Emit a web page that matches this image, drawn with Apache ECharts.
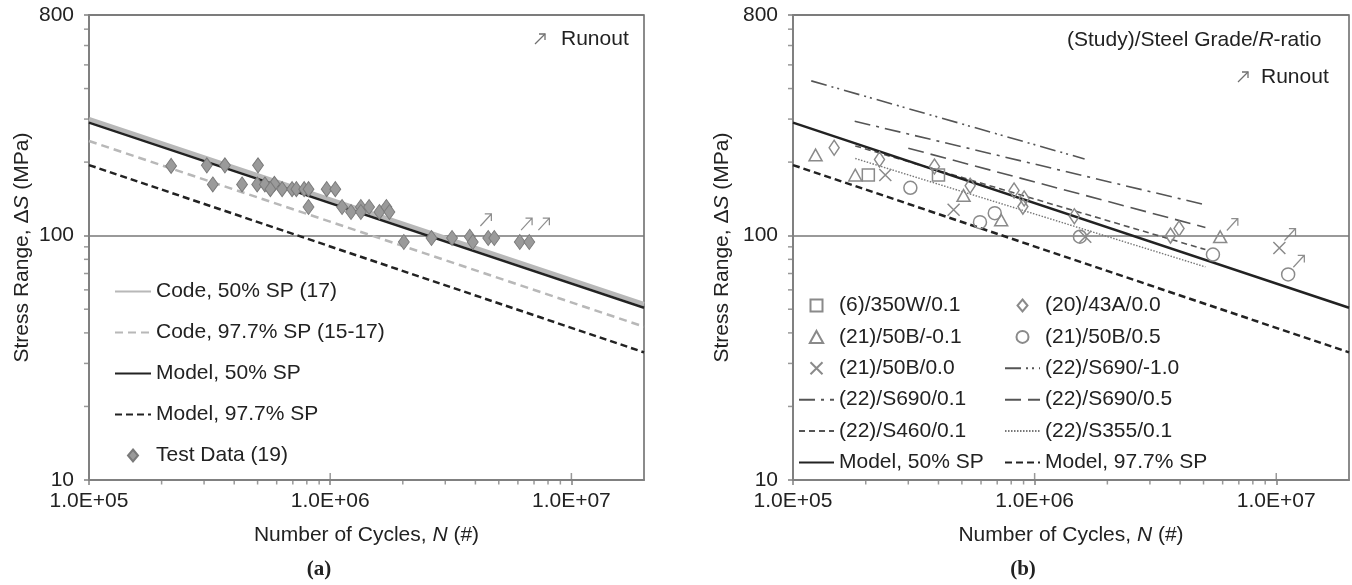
<!DOCTYPE html>
<html><head><meta charset="utf-8">
<script src="https://cdn.jsdelivr.net/npm/echarts@6/dist/echarts.min.js"></script>
<style>html,body{margin:0;padding:0;background:#fff}#c{width:1352px;height:585px}</style>
</head><body><div id="c"></div>
<script>
// ---------- tick labels ----------
const xTickValues = [1e5, 1e6, 1e7];
const xTickLabels = ['1.0E+05', '1.0E+06', '1.0E+07'];
const yTickValues = [10, 100, 800];
const yTickLabels = ['10', '100', '800'];
const xMinorTicks = [2e5,3e5,4e5,5e5,6e5,7e5,8e5,9e5,2e6,3e6,4e6,5e6,6e6,7e6,8e6,9e6];
const yMinorTicks = [20,30,40,50,60,70,80,90,200,300,400,500,600,700];

// ---------- chart (a) ----------
const code50N = [1e5, 2e7],   code50S = [300, 52.4];
const code977N = [1e5, 2e7],  code977S = [244, 42.4];
const model50N = [1e5, 2e7],  model50S = [290, 50.7];
const model977N = [1e5, 2e7], model977S = [194.5, 33.3];
const testN = [2.19e5,3.08e5,3.66e5,3.26e5,5.02e5,4.31e5,4.98e5,5.36e5,5.87e5,5.65e5,6.32e5,6.95e5,7.24e5,7.80e5,8.13e5,8.13e5,9.67e5,1.05e6,1.12e6,1.22e6,1.34e6,1.34e6,1.45e6,1.60e6,1.71e6,1.76e6,2.02e6,2.63e6,3.20e6,3.79e6,3.90e6,4.52e6,4.79e6,6.11e6,6.69e6];
const testS = [193,194,194,162,194,162,162,162,163,155,155,155,155,155,155,131,155,155,131,125,131,125,131,125,131,125,94.2,97.8,97.8,99,94.2,97.8,97.8,94.2,94.2];
const runoutAN = [4.42e6, 6.52e6, 7.69e6];
const runoutAS = [116, 111.5, 111.5];

// ---------- chart (b) ----------
const sq350WN = [2.05e5, 4.0e5];            const sq350WS = [177, 177];
const tri50BN = [1.24e5,1.81e5,5.08e5,7.27e5,5.86e6]; const tri50BS = [214,177,146,116,99];
const dia43AN = [1.48e5,2.28e5,3.85e5,5.41e5,8.22e5,9.05e5,8.94e5,1.46e6,3.65e6,3.96e6];
const dia43AS = [229,205,192,160,153,142,131.5,120,100,107];
const cir50BN = [3.06e5,5.94e5,6.84e5,1.54e6,5.47e6,1.12e7]; const cir50BS = [157,113.6,123.6,99,83.7,69.4];
const x50BN = [2.41e5,4.62e5,1.62e6,1.03e7];  const x50BS = [177,127.6,99,89];
const s690m10N = [1.19e5, 1.61e6], s690m10S = [430, 206];
const s690p01N = [1.80e5, 4.97e6], s690p01S = [294, 134.5];
const s690p05N = [3.0e5, 5.09e6],  s690p05S = [228, 108];
const s460N = [1.81e5, 5.09e6],    s460S = [233, 87.7];
const s355N = [1.81e5, 5.09e6],    s355S = [207, 74.5];
const runoutBN = [6.58e6, 1.14e7, 1.24e7];
const runoutBS = [111, 101, 78.5];

// ---------- helpers ----------
const FONT = 'Liberation Sans';
const TXT = '#222';
const AX = '#808080';
const pairs = (a, b) => a.map((v, i) => [v, b[i]]);
function pickLabel(vals, labels, v) {
  for (let i = 0; i < vals.length; i++) if (Math.abs(Math.log10(v) - Math.log10(vals[i])) < 1e-3) return labels[i];
  return '';
}
function lineS(name, N, S, color, width, type, gi) {
  return { type: 'line', name, xAxisIndex: gi, yAxisIndex: gi, data: pairs(N, S),
    symbol: 'none', showSymbol: false, silent: true, z: 3,
    itemStyle: { color: 'transparent', borderColor: 'transparent', borderWidth: 0, opacity: 0 },
    lineStyle: { color, width, type: type || 'solid', opacity: 1 } };
}
const SQ = 'path://M0,0H10V10H0Z';
const TRI = 'path://M5,0L10,9L0,9Z';
const DIA = 'path://M5,0L10,6L5,12L0,6Z';
const XS = 'path://M0,0L10,10M10,0L0,10';
function markS(name, N, S, symbol, size, gi, fill, stroke, bw) {
  return { type: 'scatter', name, xAxisIndex: gi, yAxisIndex: gi, data: pairs(N, S),
    symbol, symbolSize: size, symbolKeepAspect: true, z: 5, silent: true,
    itemStyle: { color: fill, borderColor: stroke, borderWidth: bw, opacity: 1 } };
}
const ARROW = 'path://M0,10L10,0M4,0L10,0L10,6';
function runoutS(N, S, gi) {
  return { type: 'scatter', name: 'runout' + gi, xAxisIndex: gi, yAxisIndex: gi, data: pairs(N, S),
    symbol: ARROW, symbolSize: [11, 12], z: 6, silent: true, clip: false,
    itemStyle: { color: 'transparent', borderColor: '#707070', borderWidth: 1.3 } };
}
function minorS(gi) {
  return [
    { type: 'scatter', xAxisIndex: gi, yAxisIndex: gi, silent: true, clip: false, z: 2,
      data: xMinorTicks.map(v => [v, 10]), symbol: 'rect', symbolSize: [1.5, 4], symbolOffset: [0, 2.5],
      itemStyle: { color: AX } },
    { type: 'scatter', xAxisIndex: gi, yAxisIndex: gi, silent: true, clip: false, z: 2,
      data: xTickValues.slice(1).map(v => [v, 10]), symbol: 'rect', symbolSize: [1.5, 7], symbolOffset: [0, -3.5],
      itemStyle: { color: AX } },
    { type: 'scatter', xAxisIndex: gi, yAxisIndex: gi, silent: true, clip: false, z: 2,
      data: yMinorTicks.map(v => [1e5, v]), symbol: 'rect', symbolSize: [5, 1.5], symbolOffset: [-2.5, 0],
      itemStyle: { color: AX } }
  ];
}
function xAx(gi) {
  return { type: 'log', logBase: 10, gridIndex: gi, min: 1e5, max: 2e7,
    axisLine: { show: true, lineStyle: { color: AX, width: 2 } },
    axisTick: { show: true, length: 5, lineStyle: { color: AX, width: 1.5 } },
    splitLine: { show: false }, minorTick: { show: false },
    axisLabel: { show: true, margin: 11, fontSize: 21, fontFamily: FONT, color: TXT, showMaxLabel: false, showMinLabel: true,
      formatter: v => pickLabel(xTickValues, xTickLabels, v) },
    name: '{a|Number of Cycles, }{i|N}{a| (#)}', nameLocation: 'middle', nameGap: 45,
    nameTextStyle: { rich: { a: { fontSize: 21, fontFamily: FONT, color: TXT }, i: { fontSize: 21, fontFamily: FONT, color: TXT, fontStyle: 'italic' } } } };
}
function yAx(gi, gap) {
  return { type: 'log', logBase: 10, gridIndex: gi, min: 10, max: 800,
    axisLine: { show: true, lineStyle: { color: AX, width: 2 } },
    axisTick: { show: true, length: 5, lineStyle: { color: AX, width: 1.5 } },
    splitLine: { show: true, lineStyle: { color: '#777', width: 1.5 } }, minorTick: { show: false },
    axisLabel: { show: true, margin: 15, fontSize: 21, fontFamily: FONT, color: TXT, showMaxLabel: true, showMinLabel: true,
      formatter: v => pickLabel(yTickValues, yTickLabels, v) },
    name: '{a|Stress Range, \u0394}{i|S}{a| (MPa)}', nameLocation: 'middle', nameGap: gap, nameRotate: 90,
    nameTextStyle: { rich: { a: { fontSize: 21, fontFamily: FONT, color: TXT }, i: { fontSize: 21, fontFamily: FONT, color: TXT, fontStyle: 'italic' } } } };
}
function arrowG(cx, cy) {
  return { type: 'group', x: cx, y: cy, children: [
    { type: 'polyline', shape: { points: [[-5, 5], [5, -5]] }, style: { stroke: '#707070', lineWidth: 1.3, fill: null } },
    { type: 'polyline', shape: { points: [[-1, -5], [5, -5], [5, 1]] }, style: { stroke: '#707070', lineWidth: 1.3, fill: null } }
  ] };
}

const GRAY = '#8a8a8a';
const series = [
  // (a)
  lineS('Code, 50% SP (17)', code50N, code50S, '#b8b8b8', 4.5, 'solid', 0),
  lineS('Code, 97.7% SP (15-17)', code977N, code977S, '#b8b8b8', 2.5, [8, 5], 0),
  lineS('Model, 50% SP', model50N, model50S, '#222', 2.5, 'solid', 0),
  lineS('Model, 97.7% SP', model977N, model977S, '#222', 2.5, [7, 4], 0),
  markS('Test Data (19)', testN, testS, DIA, [13, 15], 0, '#9a9a9a', '#7a7a7a', 1),
  runoutS(runoutAN, runoutAS, 0),
  ...minorS(0),
  // (b)
  lineS('(22)/S690/-1.0', s690m10N, s690m10S, '#555', 1.6, [16, 5, 2, 4, 2, 5], 1),
  lineS('(22)/S690/0.1', s690p01N, s690p01S, '#555', 1.6, [16, 6, 3, 6], 1),
  lineS('(22)/S690/0.5', s690p05N, s690p05S, '#555', 1.6, [16, 7], 1),
  lineS('(22)/S460/0.1', s460N, s460S, '#555', 1.6, [6, 4], 1),
  lineS('(22)/S355/0.1', s355N, s355S, '#777', 1.4, [1.5, 1.5], 1),
  lineS('Model, 50% SP', model50N, model50S, '#222', 2.5, 'solid', 1),
  lineS('Model, 97.7% SP', model977N, model977S, '#222', 2.5, [7, 4], 1),
  markS('(6)/350W/0.1', sq350WN, sq350WS, SQ, 12, 1, 'transparent', GRAY, 1.5),
  markS('(20)/43A/0.0', dia43AN, dia43AS, DIA, [12, 15], 1, 'transparent', GRAY, 1.5),
  markS('(21)/50B/-0.1', tri50BN, tri50BS, TRI, 13, 1, 'transparent', GRAY, 1.5),
  markS('(21)/50B/0.5', cir50BN, cir50BS, 'circle', 13, 1, 'transparent', GRAY, 1.5),
  markS('(21)/50B/0.0', x50BN, x50BS, XS, 12, 1, 'transparent', GRAY, 1.5),
  runoutS(runoutBN, runoutBS, 1),
  ...minorS(1)
];

const legendText = { fontSize: 21, fontFamily: FONT, color: TXT };
const option = {
  animation: false,
  backgroundColor: '#fff',
  grid: [
    { left: 89, top: 15, width: 555, height: 465, show: true, borderColor: '#666', borderWidth: 1.5, backgroundColor: 'transparent' },
    { left: 793, top: 15, width: 556, height: 465, show: true, borderColor: '#666', borderWidth: 1.5, backgroundColor: 'transparent' }
  ],
  xAxis: [xAx(0), xAx(1)],
  yAxis: [yAx(0, 56), yAx(1, 60)],
  legend: [
    { data: ['Code, 50% SP (17)', 'Code, 97.7% SP (15-17)', 'Model, 50% SP', 'Model, 97.7% SP', 'Test Data (19)'],
      orient: 'vertical', left: 114, top: 281, itemWidth: 36, itemHeight: 12, itemGap: 20, textStyle: legendText,
      selectedMode: false, padding: 0, symbolKeepAspect: true },
    { data: ['(6)/350W/0.1', '(21)/50B/-0.1', '(21)/50B/0.0', '(22)/S690/0.1', '(22)/S460/0.1', 'Model, 50% SP'],
      orient: 'vertical', left: 798, top: 295, itemWidth: 35, itemHeight: 12, itemGap: 10.4, textStyle: legendText,
      selectedMode: false, padding: 0, symbolKeepAspect: true },
    { data: ['(20)/43A/0.0', '(21)/50B/0.5', '(22)/S690/-1.0', '(22)/S690/0.5', '(22)/S355/0.1', 'Model, 97.7% SP'],
      orient: 'vertical', left: 1004, top: 295, itemWidth: 35, itemHeight: 12, itemGap: 10.4, textStyle: legendText,
      selectedMode: false, padding: 0, symbolKeepAspect: true }
  ],
  graphic: [
    arrowG(540, 39),
    { type: 'text', x: 561, y: 39, style: { text: 'Runout', font: '21px "Liberation Sans"', fill: TXT, verticalAlign: 'middle' } },
    { type: 'text', x: 1067, y: 40, style: { text: '{a|(Study)/Steel Grade/}{i|R}{a|-ratio}', verticalAlign: 'middle',
      rich: { a: { fontSize: 21, fontFamily: FONT, fill: TXT }, i: { fontSize: 21, fontFamily: FONT, fill: TXT, fontStyle: 'italic' } } } },
    arrowG(1243, 77),
    { type: 'text', x: 1261, y: 77, style: { text: 'Runout', font: '21px "Liberation Sans"', fill: TXT, verticalAlign: 'middle' } },
    { type: 'text', x: 319, y: 570, style: { text: '(a)', font: 'bold 21px "Liberation Serif"', fill: TXT, align: 'center', verticalAlign: 'middle' } },
    { type: 'text', x: 1023, y: 570, style: { text: '(b)', font: 'bold 21px "Liberation Serif"', fill: TXT, align: 'center', verticalAlign: 'middle' } }
  ],
  series
};
const chart = echarts.init(document.getElementById('c'), null, { renderer: 'canvas' });
chart.setOption(option);
</script>
</body></html>
